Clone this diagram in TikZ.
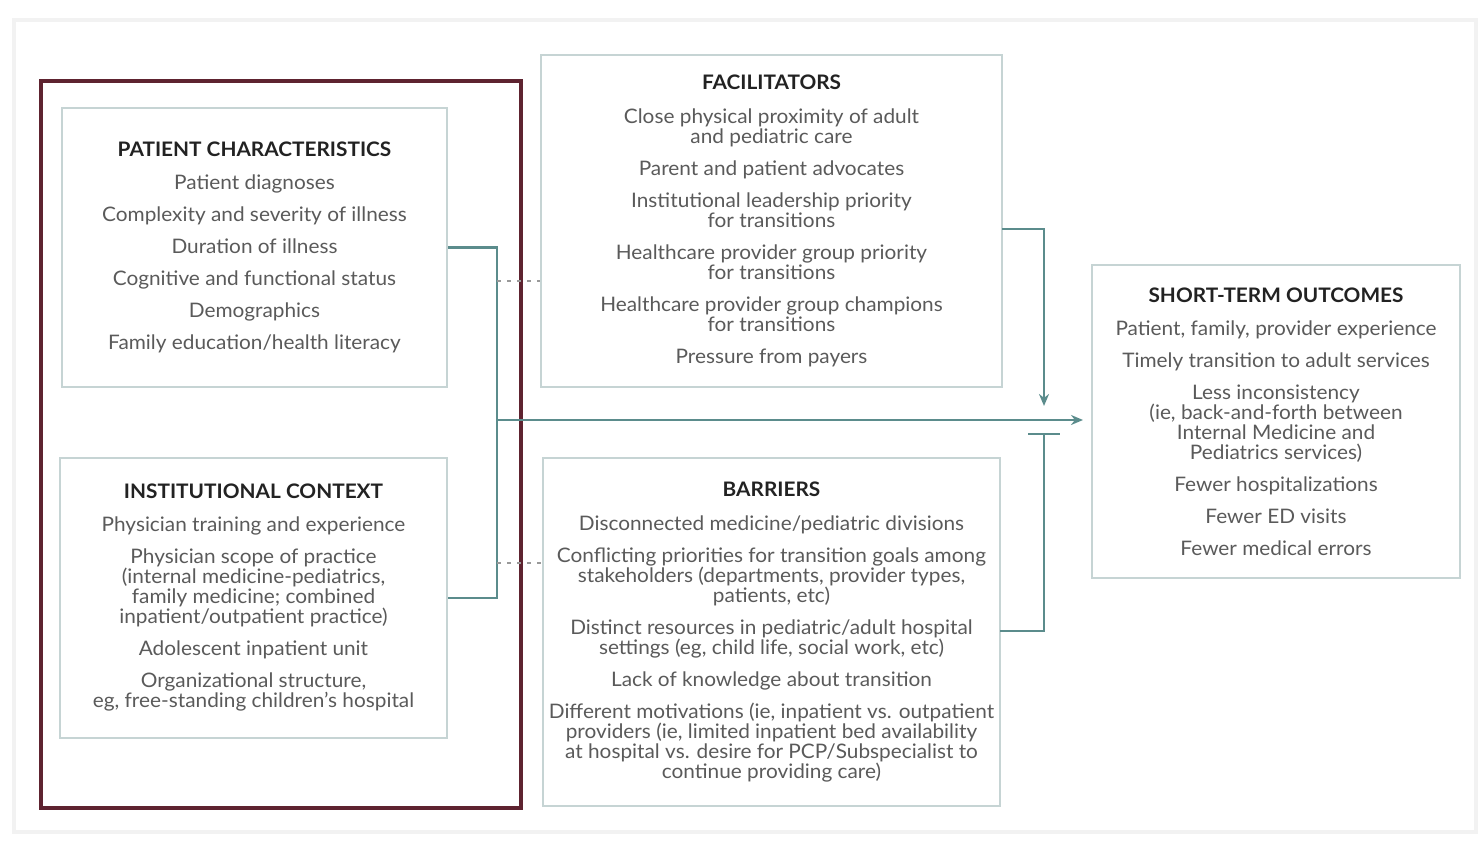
\documentclass[tikz,border=0pt]{standalone}
\usepackage{fontspec}
\setmainfont{Lato}[FakeStretch=1.04]
\usetikzlibrary{arrows.meta}
\definecolor{maroon}{HTML}{5E2330}
\definecolor{teal}{HTML}{5B8C8C}
\definecolor{boxline}{HTML}{C6D4D4}
\definecolor{bodytext}{HTML}{5A5A5A}
\definecolor{titletext}{HTML}{222222}
\tikzset{
  box/.style={draw=boxline, line width=1pt, fill=white, inner sep=0pt, align=center,
    text=bodytext, font=\fontsize{10}{10}\selectfont},
  conn/.style={draw=teal, line width=1.1pt},
  dotline/.style={draw=black!40, line width=0.8pt, dash pattern=on 2pt off 3pt},
  grp/.style={draw=maroon, line width=1.6pt, inner sep=0pt},
}
\newcommand{\ttl}[1]{{\color{titletext}\bfseries #1}}
\begin{document}
\begin{tikzpicture}[x=0.5pt,y=-0.5pt]
\useasboundingbox (0,0) rectangle (1481,840);
\draw[black!5, line width=2pt] (14,20) rectangle (1476,832);

\node[grp, minimum width=240pt, minimum height=363.5pt] (grp) at (281,444.5) {};

\node[box, minimum width=192.5pt, minimum height=139.5pt] (pc) at (254.5,247.5) {%
\ttl{PATIENT CHARACTERISTICS}\\[6.5pt]
Patient diagnoses\\[6pt]
Complexity and severity of illness\\[6pt]
Duration of illness\\[6pt]
Cognitive and functional status\\[6pt]
Demographics\\[6pt]
Family education/health literacy};

\node[box, minimum width=193.5pt, minimum height=140pt] (ic) at (253.5,598) {%
\ttl{INSTITUTIONAL CONTEXT}\\[6.5pt]
Physician training and experience\\[6pt]
Physician scope of practice\\
(internal medicine-pediatrics,\\
family medicine; combined\\
inpatient/outpatient practice)\\[6pt]
Adolescent inpatient unit\\[6pt]
Organizational structure,\\
eg, free-standing children's hospital};

\node[box, minimum width=230.5pt, minimum height=166pt] (fa) at (771.5,221) {%
\ttl{FACILITATORS}\\[7pt]
Close physical proximity of adult\\
and pediatric care\\[6pt]
Parent and patient advocates\\[6pt]
Institutional leadership priority\\
for transitions\\[6pt]
Healthcare provider group priority\\
for transitions\\[6pt]
Healthcare provider group champions\\
for transitions\\[6pt]
Pressure from payers};

\node[box, minimum width=228.5pt, minimum height=174pt] (ba) at (771.5,632) {%
\ttl{BARRIERS}\\[7pt]
Disconnected medicine/pediatric divisions\\[6pt]
Conflicting priorities for transition goals among\\
stakeholders (departments, provider types,\\
patients, etc)\\[6pt]
Distinct resources in pediatric/adult hospital\\
settings (eg, child life, social work, etc)\\[6pt]
Lack of knowledge about transition\\[6pt]
Different motivations (ie, inpatient vs. outpatient\\
providers (ie, limited inpatient bed availability\\
at hospital vs. desire for PCP/Subspecialist to\\
continue providing care)};

\node[box, minimum width=184pt, minimum height=156.5pt] (ou) at (1276,421.5) {%
\ttl{SHORT-TERM OUTCOMES}\\[6.5pt]
Patient, family, provider experience\\[6pt]
Timely transition to adult services\\[6pt]
Less inconsistency\\
(ie, back-and-forth between\\
Internal Medicine and\\
Pediatrics services)\\[6pt]
Fewer hospitalizations\\[6pt]
Fewer ED visits\\[6pt]
Fewer medical errors};

\coordinate (j) at (497,420);
\coordinate (m) at (1044,420);
\coordinate (d1) at (497,281);
\coordinate (d2) at (497,563);
\coordinate (fo) at (1002,229);
\coordinate (bo) at (1000,631);

\draw[conn] (pc.east) -| (j) |- (ic.east);
\draw[conn, -{Stealth[length=6pt,width=5pt]}, shorten >=4pt] (j) -- (j -| ou.west);
\draw[dotline] (d1) -- (d1 -| fa.west);
\draw[dotline] (d2) -- (d2 -| ba.west);
\draw[conn, -{Stealth[length=6pt,width=5pt]}, shorten >=7pt] (fo) -| (m);
\draw[conn, -{Bar[width=16pt]}, shorten >=6.5pt] (bo) -| (m);
\end{tikzpicture}
\end{document}
